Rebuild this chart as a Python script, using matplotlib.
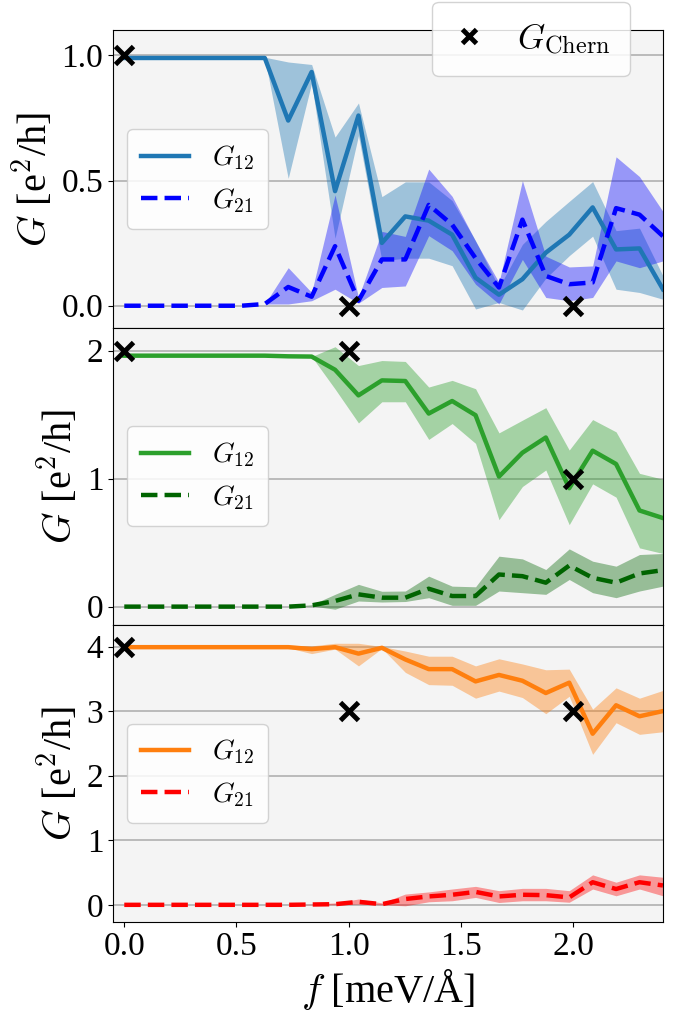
import numpy as np
import matplotlib
matplotlib.use('Agg')
import matplotlib.pyplot as plt
from matplotlib.lines import Line2D

plt.rcParams['font.family'] = ['Liberation Serif', 'DejaVu Serif']
plt.rcParams['mathtext.fontset'] = 'cm'

# field strength grid
f = np.linspace(0, 2.4, 24)

# Chern conductance reference points
f_chern = [0.0, 1.0, 2.0]
chern_top = [1, 0, 0]
chern_mid = [2, 2, 1]
chern_bot = [4, 3, 3]

# top panel
top_g12 = [0.99, 0.99, 0.99, 0.99, 0.99, 0.99, 0.99, 0.74, 0.934, 0.458, 0.76, 0.251,
           0.357, 0.34, 0.284, 0.112, 0.044, 0.106, 0.212, 0.284, 0.393, 0.225, 0.229, 0.066]
top_g12_lo = [0.99, 0.99, 0.99, 0.99, 0.99, 0.99, 0.99, 0.509, 0.89, 0.27, 0.68, 0.18,
              0.19, 0.19, 0.16, -0.013, 0.013, -0.017, 0.11, 0.2, 0.278, 0.066, 0.053, 0.026]
top_g12_hi = [0.99, 0.99, 0.99, 0.99, 0.99, 0.99, 0.993, 0.974, 0.964, 0.674, 0.81, 0.436,
              0.495, 0.495, 0.42, 0.26, 0.073, 0.245, 0.337, 0.417, 0.496, 0.3, 0.31, 0.12]
top_g21 = [0, 0, 0, 0, 0, 0, 0.007, 0.075, 0.036, 0.238, 0.02, 0.185,
           0.185, 0.403, 0.324, 0.19, 0.073, 0.344, 0.119, 0.086, 0.093, 0.39, 0.364, 0.278]
top_g21_lo = [0, 0, 0, 0, 0, 0, 0.007, 0.007, 0.02, 0.066, 0.01, 0.073,
              0.079, 0.28, 0.22, 0.086, 0.007, 0.185, 0.033, 0.02, 0.033, 0.179, 0.152, 0.179]
top_g21_hi = [0, 0, 0, 0, 0, 0, 0.007, 0.152, 0.053, 0.443, 0.033, 0.297,
              0.277, 0.546, 0.437, 0.258, 0.093, 0.5, 0.198, 0.155, 0.159, 0.595, 0.516, 0.377]

# middle panel
mid_g12 = [1.96, 1.96, 1.96, 1.96, 1.96, 1.96, 1.96, 1.955, 1.953, 1.85, 1.65, 1.767,
           1.762, 1.508, 1.606, 1.495, 1.016, 1.202, 1.321, 0.925, 1.218, 1.114, 0.751, 0.692]
mid_g12_lo = [1.96, 1.96, 1.96, 1.96, 1.96, 1.96, 1.96, 1.955, 1.953, 1.70, 1.435, 1.6,
              1.6, 1.306, 1.43, 1.275, 0.679, 0.938, 1.067, 0.64, 0.959, 0.855, 0.459, 0.415]
mid_g12_hi = [1.96, 1.96, 1.96, 1.96, 1.96, 1.96, 1.96, 1.955, 1.953, 2.03, 1.883, 1.922,
              1.915, 1.715, 1.767, 1.702, 1.357, 1.456, 1.554, 1.223, 1.461, 1.365, 1.041, 0.995]
mid_g21 = [0, 0, 0, 0, 0, 0, 0, 0, 0.01, 0.044, 0.096, 0.07,
           0.07, 0.14, 0.083, 0.083, 0.251, 0.238, 0.187, 0.321, 0.225, 0.187, 0.259, 0.285]
mid_g21_lo = [0, 0, 0, 0, 0, 0, 0, 0, 0.005, -0.02, 0.044, 0.036,
              0.04, 0.07, 0.01, 0.01, 0.122, 0.109, 0.096, 0.212, 0.109, 0.07, 0.122, 0.16]
mid_g21_hi = [0, 0, 0, 0, 0, 0, 0, 0, 0.015, 0.096, 0.174, 0.12,
              0.122, 0.238, 0.16, 0.155, 0.394, 0.373, 0.29, 0.451, 0.355, 0.316, 0.407, 0.415]

# bottom panel
bot_g12 = [3.99, 3.99, 3.99, 3.99, 3.99, 3.99, 3.99, 3.99, 3.96, 3.99, 3.89, 3.98,
           3.80, 3.65, 3.65, 3.46, 3.56, 3.47, 3.28, 3.44, 2.65, 3.09, 2.92, 3.0]
bot_g12_lo = [3.99, 3.99, 3.99, 3.99, 3.99, 3.99, 3.99, 3.98, 3.89, 3.96, 3.70, 3.97,
              3.6, 3.41, 3.40, 3.2, 3.31, 3.21, 2.96, 3.23, 2.33, 2.82, 2.64, 2.68]
bot_g12_hi = [3.99, 3.99, 3.99, 3.99, 3.99, 3.99, 3.99, 4.02, 4.01, 4.05, 4.05, 4.0,
              3.93, 3.85, 3.85, 3.70, 3.81, 3.73, 3.64, 3.65, 3.03, 3.36, 3.2, 3.32]
bot_g21 = [0, 0, 0, 0, 0, 0, 0, 0, 0.005, 0.01, 0.047, 0.01,
           0.09, 0.13, 0.156, 0.2, 0.13, 0.156, 0.15, 0.115, 0.35, 0.245, 0.35, 0.3]
bot_g21_lo = [0, 0, 0, 0, 0, 0, 0, 0, 0, 0, 0.01, 0.0,
              -0.015, 0.047, 0.063, 0.115, 0.036, 0.063, 0.063, 0.04, 0.245, 0.14, 0.245, 0.14]
bot_g21_hi = [0, 0, 0, 0, 0, 0, 0, 0, 0.01, 0.03, 0.09, 0.03,
              0.167, 0.2, 0.245, 0.286, 0.219, 0.255, 0.255, 0.219, 0.464, 0.35, 0.464, 0.427]

panels = [
    (top_g12, top_g12_lo, top_g12_hi, top_g21, top_g21_lo, top_g21_hi, chern_top,
     'tab:blue', 'blue', (-0.087, 1.1), [0.0, 0.5, 1.0], ['0.0', '0.5', '1.0']),
    (mid_g12, mid_g12_lo, mid_g12_hi, mid_g21, mid_g21_lo, mid_g21_hi, chern_mid,
     'tab:green', 'darkgreen', (-0.14, 2.18), [0, 1, 2], ['0', '1', '2']),
    (bot_g12, bot_g12_lo, bot_g12_hi, bot_g21, bot_g21_lo, bot_g21_hi, chern_bot,
     'tab:orange', 'red', (-0.26, 4.34), [0, 1, 2, 3, 4], ['0', '1', '2', '3', '4']),
]

fig, axes = plt.subplots(3, 1, figsize=(6.73, 10.15), dpi=100, sharex=True)
fig.subplots_adjust(left=0.168, right=0.985, top=0.970, bottom=0.092, hspace=0)

for ax, (g12, g12lo, g12hi, g21, g21lo, g21hi, chern, c12, c21, ylim, yt, ytl) in zip(axes, panels):
    ax.set_facecolor('#f4f4f4')
    ax.grid(axis='y', color='#b0b0b0', lw=1.2)
    ax.set_axisbelow(True)
    ax.fill_between(f, g12lo, g12hi, color=c12, alpha=0.4, lw=0)
    ax.fill_between(f, g21lo, g21hi, color=c21, alpha=0.38, lw=0)
    ax.plot(f, g12, color=c12, lw=3.2, label=r'$G_{12}$')
    ax.plot(f, g21, color=c21, lw=3.2, ls='--', label=r'$G_{21}$')
    ax.plot(f_chern, chern, 'x', color='black', ms=13, mew=3.5, zorder=5, clip_on=False)
    ax.set_ylim(*ylim)
    ax.set_yticks(yt)
    ax.set_yticklabels(ytl)
    ax.set_xlim(-0.05, 2.4)
    ax.tick_params(labelsize=24)
    ax.set_ylabel(r'$G$ [e$^2$/h]', fontsize=29)
    ax.legend(loc='center left', fontsize=20, handlelength=1.75, borderpad=0.5,
              labelspacing=0.5, framealpha=0.85)

axes[-1].set_xticks([0.0, 0.5, 1.0, 1.5, 2.0])
axes[-1].set_xticklabels(['0.0', '0.5', '1.0', '1.5', '2.0'])
axes[-1].set_xlabel(r'$f$ [meV/Å]', fontsize=29)

chern_handle = Line2D([], [], ls='none', marker='x', color='black', ms=10, mew=3.5)
fig.legend([chern_handle], [r'$G_{\rm Chern}$'], loc='center', bbox_to_anchor=(0.789, 0.962),
           fontsize=25, framealpha=0.85, borderpad=0.55, handlelength=1.0, handletextpad=0.9)

fig.savefig('out.png', dpi=100)
